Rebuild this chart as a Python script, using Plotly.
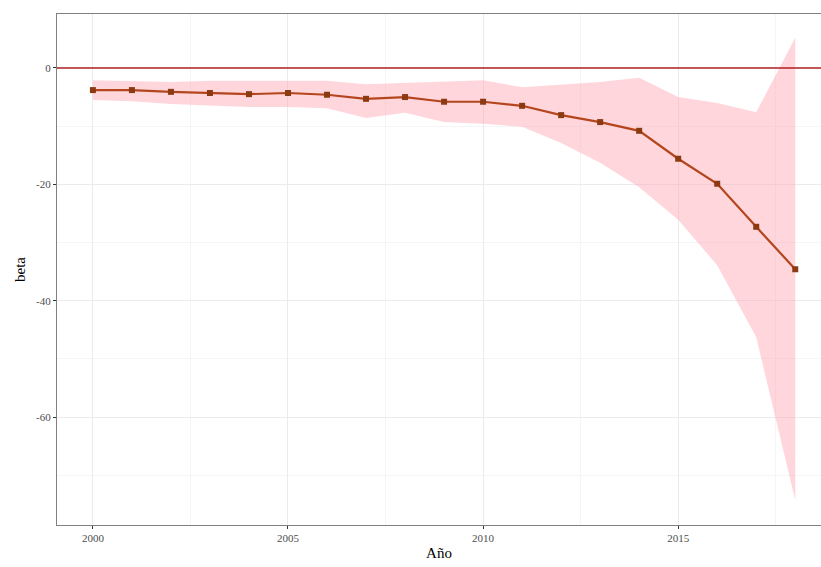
import plotly.graph_objects as go

years = list(range(2000, 2019))
beta = [-3.8, -3.8, -4.1, -4.3, -4.5, -4.3, -4.6, -5.3, -5.0, -5.8, -5.8, -6.5,
        -8.1, -9.3, -10.8, -15.6, -19.9, -27.3, -34.6]
upper = [-2.1, -2.2, -2.4, -2.2, -2.2, -2.1, -2.2, -2.8, -2.6, -2.4, -2.1, -3.3,
         -2.9, -2.4, -1.7, -5.0, -6.0, -7.6, 5.2]
lower = [-5.5, -5.7, -6.2, -6.5, -6.7, -6.7, -6.9, -8.6, -7.7, -9.3, -9.6, -10.1,
         -12.9, -16.3, -20.5, -26.1, -33.9, -46.3, -74.3]
x_ticks = [2000, 2005, 2010, 2015]
y_ticks = [0, -20, -40, -60]
y_tick_labels = ["0", "-20", "-40", "-60"]

font_family = "Liberation Serif, DejaVu Serif, serif"

fig = go.Figure()
fig.add_trace(go.Scatter(x=years, y=upper, mode="lines", line=dict(width=0),
                         hoverinfo="skip", showlegend=False))
fig.add_trace(go.Scatter(x=years, y=lower, mode="lines", line=dict(width=0),
                         fill="tonexty", fillcolor="rgba(255,165,177,0.45)",
                         hoverinfo="skip", showlegend=False))
fig.add_trace(go.Scatter(x=[1999.0, 2018.8], y=[0, 0], mode="lines",
                         line=dict(color="#B22222", width=1.5), showlegend=False))
fig.add_trace(go.Scatter(x=years, y=beta, mode="lines+markers",
                         line=dict(color="#B4461E", width=2.2),
                         marker=dict(symbol="square", size=6, color="#8B3A12"),
                         showlegend=False))

axis_common = dict(
    showline=True, linecolor="#808080", linewidth=1.2,
    ticks="outside", ticklen=3, tickcolor="#333333", tickwidth=1,
    showgrid=True, gridcolor="#EBEBEB", gridwidth=1,
    zeroline=False,
    tickfont=dict(family=font_family, size=11, color="#4D4D4D"),
    title_font=dict(family=font_family, size=15, color="#000000"),
)

fig.update_xaxes(**axis_common, mirror=True, range=[1999.08, 2018.66], tickvals=x_ticks,
                 minor=dict(tickvals=[2002.5, 2007.5, 2012.5, 2017.5], showgrid=True,
                            gridcolor="#F5F5F5", gridwidth=1, ticks=""),
                 title_text="Año", title_standoff=4)
fig.update_yaxes(**axis_common, mirror=False, range=[-78.56, 9.28], tickvals=y_ticks,
                 ticktext=y_tick_labels,
                 minor=dict(tickvals=[-10, -30, -50, -70], showgrid=True,
                            gridcolor="#F5F5F5", gridwidth=1, ticks=""),
                 title_text="beta", title_standoff=6)

fig.update_layout(
    width=821, height=567,
    margin=dict(l=57, r=0, t=14, b=42),
    paper_bgcolor="white", plot_bgcolor="white",
    font=dict(family=font_family),
)

fig.write_html("out.html")
